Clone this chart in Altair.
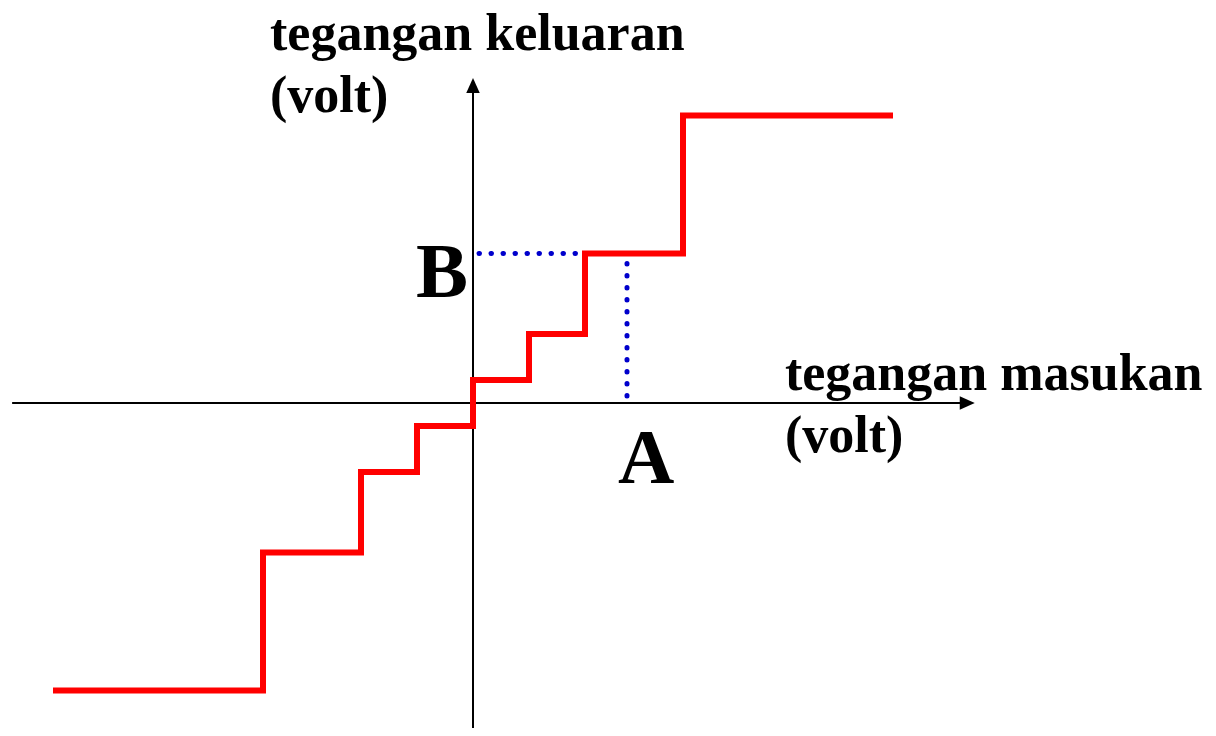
import altair as alt
import pandas as pd

# Step transfer curve (input voltage -> output voltage), arbitrary units
step_x = [-7.5, -3.75, -2.0, -1.0, 0.0, 1.0, 2.0, 3.75, 7.5]
step_y = [-6.25, -3.25, -1.5, -0.5, 0.5, 1.5, 3.25, 6.25, 6.25]

# Marked point A (input) and B (output)
point_a = 2.75
point_b = 3.25

# Axis extents
x_axis = [-8.23, 8.73]
y_axis = [-7.4, 6.74]
x_tip = 8.96
y_tip = 7.065

X_DOM = [-8.3036, 13.125]
Y_DOM = [-7.0652, 8.587]

xs = alt.Scale(domain=X_DOM, nice=False, zero=False)
ys = alt.Scale(domain=Y_DOM, nice=False, zero=False)

def X(f="x", **k):
    return alt.X(f, type="quantitative", scale=xs, axis=None, **k)

def Y(f="y", **k):
    return alt.Y(f, type="quantitative", scale=ys, axis=None, **k)

steps = pd.DataFrame({"x": step_x, "y": step_y})
curve = alt.Chart(steps).mark_line(
    interpolate="step-after", color="#ff0000", strokeWidth=6,
    strokeJoin="miter", strokeCap="butt"
).encode(x=X(), y=Y())

hax = alt.Chart(pd.DataFrame({"x": [x_axis[0]], "x2": [x_axis[1]], "y": [0.0]})).mark_rule(
    color="black", strokeWidth=2
).encode(x=X(), x2="x2", y=Y())
vax = alt.Chart(pd.DataFrame({"x": [0.0], "y": [y_axis[0]], "y2": [y_axis[1]]})).mark_rule(
    color="black", strokeWidth=2
).encode(x=X(), y=Y(), y2="y2")

harrow = alt.Chart(pd.DataFrame({"x": [x_tip], "y": [0.0]})).mark_point(
    shape="M 0 0 L -2 -0.9 L -2 0.9 Z", filled=True, size=225, color="black",
    strokeWidth=0, opacity=1
).encode(x=X(), y=Y())
varrow = alt.Chart(pd.DataFrame({"x": [0.0], "y": [y_tip]})).mark_point(
    shape="M 0 0 L -0.9 2 L 0.9 2 Z", filled=True, size=225, color="black",
    strokeWidth=0, opacity=1
).encode(x=X(), y=Y())

dot_h = alt.Chart(pd.DataFrame({"x": [0.107], "x2": [2.0], "y": [point_b]})).mark_rule(
    color="#0000cc", strokeWidth=5, strokeDash=[0.5, 11.5], strokeCap="round"
).encode(x=X(), x2="x2", y=Y())
dot_v = alt.Chart(pd.DataFrame({"x": [point_a], "y": [0.152], "y2": [point_b]})).mark_rule(
    color="#0000cc", strokeWidth=5, strokeDash=[0.5, 11.5], strokeCap="round"
).encode(x=X(), y=Y(), y2="y2")

labels = pd.DataFrame({
    "x": [-3.625, -3.625, 5.57, 5.57],
    "y": [7.674, 6.326, 0.283, -1.058],
    "t": ["tegangan keluaran", "(volt)", "tegangan masukan", "(volt)"],
})
label_text = alt.Chart(labels).mark_text(
    font="Liberation Serif", fontWeight="bold", fontSize=52, align="left",
    baseline="alphabetic", color="black"
).encode(x=X(), y=Y(), text="t:N")

letter_b = alt.Chart(pd.DataFrame({"x": [-0.09], "y": [2.304], "t": ["B"]})).mark_text(
    font="Liberation Serif", fontWeight="bold", fontSize=78, align="right",
    baseline="alphabetic", color="black"
).encode(x=X(), y=Y(), text="t:N")
letter_a = alt.Chart(pd.DataFrame({"x": [2.589], "y": [-1.739], "t": ["A"]})).mark_text(
    font="Liberation Serif", fontWeight="bold", fontSize=78, align="left",
    baseline="alphabetic", color="black"
).encode(x=X(), y=Y(), text="t:N")

chart = alt.layer(
    hax, vax, harrow, varrow, dot_h, dot_v, curve, label_text, letter_b, letter_a
).properties(
    width=1200, height=720, padding=0, autosize=alt.AutoSizeParams(type="none"),
    background="white"
).configure_view(stroke=None)

chart.save("out.html", embed_options={"renderer": "svg", "actions": False})
